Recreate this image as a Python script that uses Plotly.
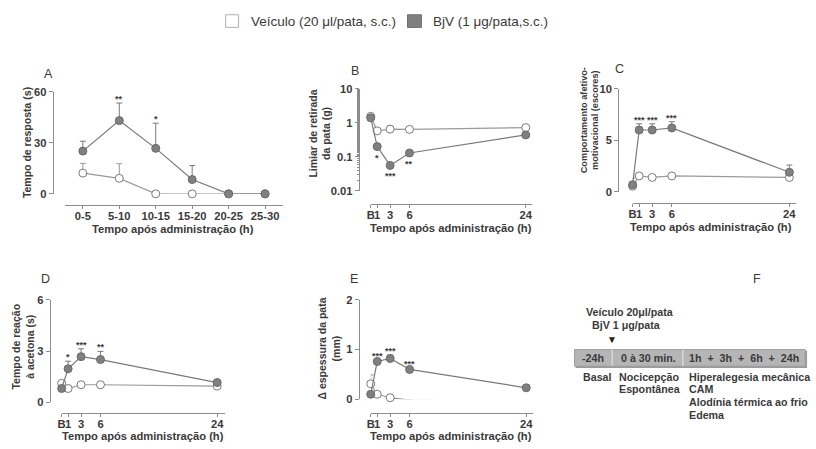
import math
import plotly.graph_objects as go

W, H = 816, 449
def fx(p): return p / W
def fy(p): return 1 - p / H

# ---------------- DATA ----------------
a_cats = ["0-5", "5-10", "10-15", "15-20", "20-25", "25-30"]
a_veh = [12.2, 9.1, 0, 0, 0, 0]
a_veh_err = [5.7, 8.6, 0, 0, 0, 0]
a_bjv = [25.1, 43.0, 26.7, 8.4, 0, 0]
a_bjv_err = [5.8, 10.3, 14.8, 8.2, 0, 0]
a_sig = ["", "**", "*", "", "", ""]

t_hours = [0, 1, 3, 6, 24]
t_labels = ["B", "1", "3", "6", "24"]

b_veh = [1.55, 0.58, 0.65, 0.64, 0.72]
b_veh_err = [0.2, 0.0, 0.16, 0.0, 0.0]
b_bjv = [1.40, 0.20, 0.056, 0.13, 0.44]
b_bjv_err = [0.15, 0.0, 0.0, 0.0, 0.06]
b_sig = ["", "*", "***", "**", ""]

c_veh = [0.55, 1.55, 1.40, 1.55, 1.40]
c_veh_err = [0.8, 0.0, 0.0, 0.0, 0.0]
c_bjv = [0.70, 6.0, 6.0, 6.2, 1.9]
c_bjv_err = [0.2, 0.6, 0.6, 0.6, 0.7]
c_sig = ["", "***", "***", "***", ""]

d_veh = [1.10, 0.80, 1.02, 1.02, 0.94]
d_veh_err = [0.15, 0.0, 0.0, 0.0, 0.0]
d_bjv = [0.80, 1.96, 2.67, 2.50, 1.15]
d_bjv_err = [0.0, 0.44, 0.46, 0.48, 0.15]
d_sig = ["", "*", "***", "**", ""]

e_veh = [0.31, 0.10, 0.03, -0.02, -0.05]
e_veh_err = [0.18, 0.0, 0.0, 0.0, 0.0]
e_bjv = [0.10, 0.76, 0.82, 0.60, 0.23]
e_bjv_err = [0.05, 0.03, 0.07, 0.02, 0.02]
e_sig = ["", "***", "***", "***", ""]

legend_labels = ["Veículo (20 μl/pata, s.c.)", "BjV (1 μg/pata,s.c.)"]

# ---------------- STYLE ----------------
FONT = "Liberation Sans, Arial, sans-serif"
TXT = "#3a3a3a"
AX = "#8c8c8c"
GRAY_FILL = "#808080"
GRAY_LINE = "#7a7a7a"
VEH_LINE = "#9a9a9a"
TICK_SIZE = 11.2
TITLE_SIZE = 11.2
YTITLE_SIZE = 10.5

fig = go.Figure()
annotations = []
shapes = []
layout = {}


def add_panel(i, xdom, xr, x_axis_y, ydom, yr, y_axis_x, xvals, xtext, yvals, ytext,
              xdata, veh, veh_err, bjv, bjv_err, sig, ytype="linear", xtype="linear",
              sig_below=False):
    xa = "x" if i == 1 else f"x{i}"
    ya = "y" if i == 1 else f"y{i}"
    xkey = "xaxis" if i == 1 else f"xaxis{i}"
    ykey = "yaxis" if i == 1 else f"yaxis{i}"
    tick = dict(family=FONT, size=TICK_SIZE, color=TXT, weight="bold")
    xd = dict(domain=[fx(xdom[0]), fx(xdom[1])], range=xr, anchor="free",
              position=fy(x_axis_y), showline=True, linecolor=AX, linewidth=1,
              ticks="outside", ticklen=3, tickcolor=AX, tickfont=tick, showgrid=False,
              zeroline=False, tickangle=0, fixedrange=True, type=xtype,
              ticklabelstandoff=-2)
    if xvals is not None:
        xd.update(tickmode="array", tickvals=xvals, ticktext=xtext)
    yd = dict(domain=[fy(ydom[0]), fy(ydom[1])], range=yr, anchor="free",
              position=fx(y_axis_x), showline=True, linecolor=AX, linewidth=1,
              ticks="outside", ticklen=4, tickcolor=AX, tickfont=tick, showgrid=False,
              zeroline=False, fixedrange=True, type=ytype, tickmode="array",
              tickvals=yvals, ticktext=ytext)
    if ytype == "log":
        yd["minor"] = dict(ticks="outside", ticklen=2, tickcolor=AX, showgrid=False)
    layout[xkey] = xd
    layout[ykey] = yd

    n = len(xdata)
    fig.add_trace(go.Scatter(
        x=xdata, y=veh, xaxis=xa, yaxis=ya, mode="lines+markers", cliponaxis=False,
        line=dict(color=VEH_LINE, width=1.2),
        marker=dict(size=8, color="white", line=dict(color=GRAY_LINE, width=1)),
        error_y=dict(type="data", symmetric=False, array=veh_err, arrayminus=[0] * n,
                     color=VEH_LINE, thickness=1, width=3),
        showlegend=False, hoverinfo="skip"))
    fig.add_trace(go.Scatter(
        x=xdata, y=bjv, xaxis=xa, yaxis=ya, mode="lines+markers", cliponaxis=False,
        line=dict(color=GRAY_LINE, width=1.2),
        marker=dict(size=8, color=GRAY_FILL, line=dict(color="#6a6a6a", width=1)),
        error_y=dict(type="data", symmetric=False, array=bjv_err, arrayminus=[0] * n,
                     color=GRAY_LINE, thickness=1, width=3),
        showlegend=False, hoverinfo="skip"))
    for xv, v, e, s in zip(xdata, bjv, bjv_err, sig):
        if not s:
            continue
        if sig_below:
            annotations.append(dict(x=xv, y=(math.log10(v) if ytype == "log" else v),
                                    xref=xa, yref=ya, text=s, showarrow=False,
                                    yanchor="top", yshift=-4,
                                    font=dict(family=FONT, size=9, color=TXT, weight="bold")))
        else:
            annotations.append(dict(x=xv, y=v + e, xref=xa, yref=ya, text=s, showarrow=False,
                                    yanchor="bottom", yshift=-3,
                                    font=dict(family=FONT, size=9, color=TXT, weight="bold")))


# Panel A
add_panel(1, (61, 281), [-0.5, 5.5], 204, (193, 88), [0, 60], 49,
          None, None, [0, 30, 60], ["0", "30", "60"],
          a_cats, a_veh, a_veh_err, a_bjv, a_bjv_err, a_sig, xtype="category")
# Panel B
add_panel(2, (369, 531), [0, 162 / 6.5], 203, (190, 85), [-2, 1], 357,
          t_hours, t_labels, [0.01, 0.1, 1, 10], ["0.01", "0.1", "1", "10"],
          t_hours, b_veh, b_veh_err, b_bjv, b_bjv_err, b_sig, ytype="log", sig_below=True)
# Panel C
add_panel(3, (632.5, 797), [0, 164.5 / 6.57], 202, (191, 85), [0, 10], 618,
          t_hours, t_labels, [0, 5, 10], ["0", "5", "10"],
          t_hours, c_veh, c_veh_err, c_bjv, c_bjv_err, c_sig)
# Panel D
add_panel(4, (58, 222), [0, 164 / 6.52], 418, (407, 302), [0, 6], 46,
          t_hours, t_labels, [0, 3, 6], ["0", "3", "6"],
          t_hours, d_veh, d_veh_err, d_bjv, d_bjv_err, d_sig)
# Panel E
add_panel(5, (369, 532), [0, 163 / 6.52], 418, (404, 302), [0, 2], 357,
          t_hours, t_labels, [0, 1, 2], ["0", "1", "2"],
          t_hours, e_veh, e_veh_err, e_bjv, e_bjv_err, e_sig)


def txt(x, y, s, size=TITLE_SIZE, bold=True, xanchor="center", angle=0, color=TXT):
    annotations.append(dict(x=fx(x), y=fy(y), xref="paper", yref="paper", text=s,
                            showarrow=False, xanchor=xanchor, yanchor="middle",
                            textangle=angle,
                            font=dict(family=FONT, size=size, color=color,
                                      weight="bold" if bold else "normal")))


# axis titles
xt = "Tempo após administração (h)"
txt(170, 229, xt)
txt(450, 228, xt)
txt(711, 227, xt)
txt(140, 442, xt)
txt(450, 442, xt)
txt(23, 140, "Tempo de resposta (s)", size=YTITLE_SIZE, angle=-90)
txt(318, 131, "Limiar de retirada<br>da pata (g)", size=YTITLE_SIZE, angle=-90)
txt(589, 117, "Comportamento afetivo-<br>motivacional (escores)", size=9.2, angle=-90)
txt(19, 350, "Tempo de reação<br>à acetona (s)", size=YTITLE_SIZE, angle=-90)
txt(327, 352, "Δ espessura da pata<br>(mm)", size=YTITLE_SIZE, angle=-90)

# panel letters
for lab, x, y in [("A", 45, 70), ("B", 353, 67), ("C", 619, 65), ("D", 42, 280),
                  ("E", 352, 280), ("F", 758, 280)]:
    txt(x, y, lab, size=12.5, bold=False)

# legend
shapes.append(dict(type="rect", xref="paper", yref="paper", x0=fx(223), x1=fx(236),
                   y0=fy(22), y1=fy(9), fillcolor="white", line=dict(color="#b0b0b0", width=1)))
txt(247, 16, legend_labels[0], size=13.5, bold=False, xanchor="left")
shapes.append(dict(type="rect", xref="paper", yref="paper", x0=fx(406), x1=fx(420),
                   y0=fy(22), y1=fy(9), fillcolor=GRAY_FILL, line=dict(color="#707070", width=1)))
txt(430, 16, legend_labels[1], size=13.5, bold=False, xanchor="left")

# panel F timeline
FS = 10.7
shapes.append(dict(type="rect", xref="paper", yref="paper", x0=fx(575), x1=fx(808),
                   y0=fy(372), y1=fy(354), fillcolor="#9a9a9a", line=dict(width=0)))
shapes.append(dict(type="rect", xref="paper", yref="paper", x0=fx(574), x1=fx(806),
                   y0=fy(370), y1=fy(353), fillcolor="#b5b5b5", line=dict(color="#a0a0a0", width=1)))
for xd in (612, 683):
    shapes.append(dict(type="line", xref="paper", yref="paper", x0=fx(xd), x1=fx(xd),
                       y0=fy(370), y1=fy(353), line=dict(color="#d6d6d6", width=1.5)))
txt(630, 314, "Veículo 20μl/pata", size=FS)
txt(626, 328, "BjV 1 μg/pata", size=FS)
txt(612, 343, "▼", size=10, bold=False, color="#222222")
txt(593, 362, "-24h", size=FS)
txt(648, 362, "0 à 30 min.", size=FS)
txt(745, 362, "1h  +  3h  +  6h  +  24h", size=FS)
txt(581, 381, "Basal", size=FS, xanchor="left")
txt(617, 381, "Nocicepção", size=FS, xanchor="left")
txt(617, 394, "Espontânea", size=FS, xanchor="left")
txt(687, 381, "Hiperalegesia mecânica", size=FS, xanchor="left")
txt(687, 394, "CAM", size=FS, xanchor="left")
txt(687, 407, "Alodínia térmica ao frio", size=FS, xanchor="left")
txt(687, 420, "Edema", size=FS, xanchor="left")

fig.update_layout(width=W, height=H, margin=dict(l=0, r=0, t=0, b=0),
                  paper_bgcolor="white", plot_bgcolor="white", showlegend=False,
                  annotations=annotations, shapes=shapes, **layout)
fig.write_html("out.html")
